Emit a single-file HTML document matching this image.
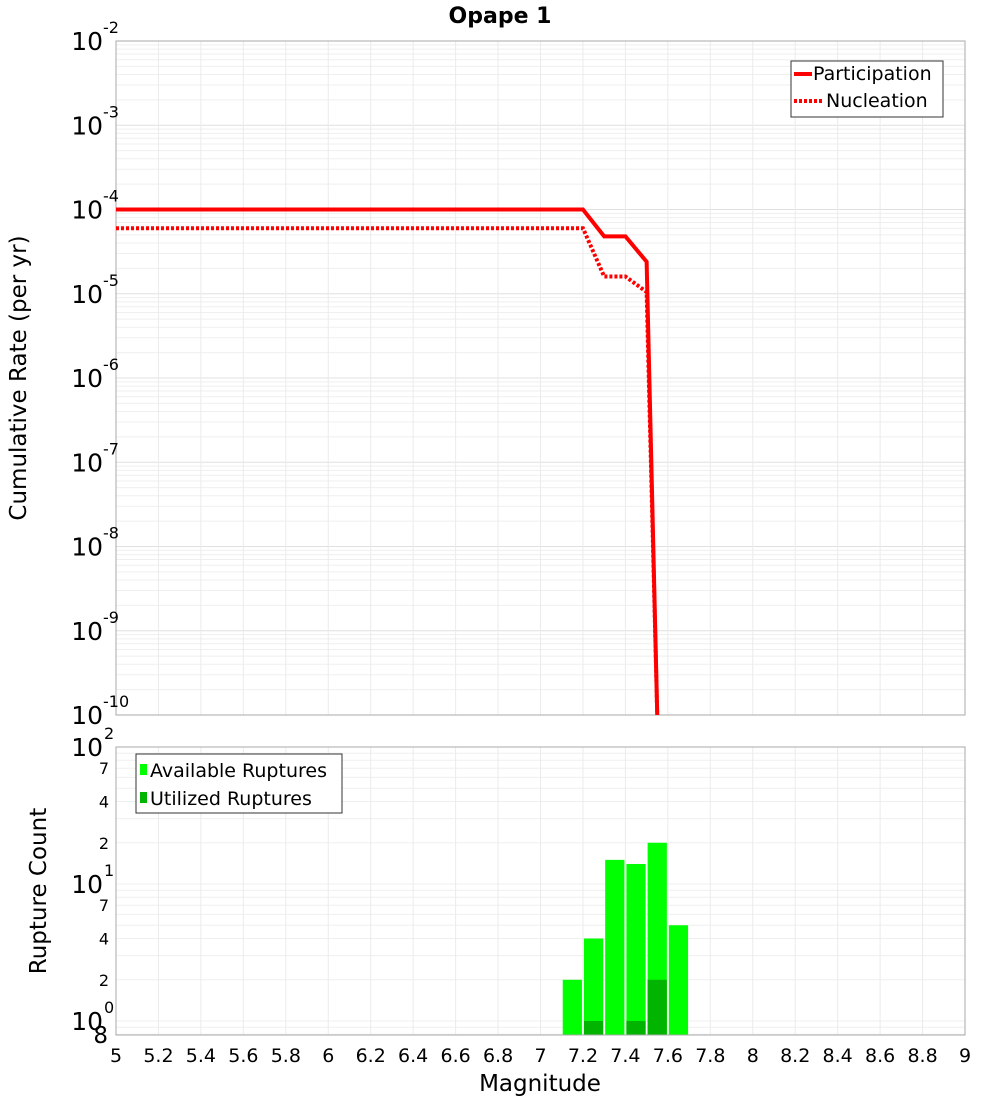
<!DOCTYPE html>
<html><head><meta charset="utf-8"><style>
body{margin:0;background:#fff;}
svg{font-family:"DejaVu Sans","Liberation Sans",sans-serif;}
</style></head><body>
<svg id="c" width="1000" height="1100" xmlns="http://www.w3.org/2000/svg"></svg>
<script>
const partMag=[5,7.2,7.3,7.4,7.5,7.55];
const partRate=[1e-4,1e-4,4.8e-5,4.8e-5,2.4e-5,1e-10];
const nuclMag=[5,7.2,7.3,7.4,7.5,7.55];
const nuclRate=[6e-5,6e-5,1.6e-5,1.6e-5,1.05e-5,1e-10];
const binMag=[7.15,7.25,7.35,7.45,7.55,7.65];
const availCount=[2,4,15,14,20,5];
const utilCount=[0,1,0,1,2,0];
const xTicks=[5,5.2,5.4,5.6,5.8,6,6.2,6.4,6.6,6.8,7,7.2,7.4,7.6,7.8,8,8.2,8.4,8.6,8.8,9];
const topExps=[-2,-3,-4,-5,-6,-7,-8,-9,-10];

const S=document.getElementById('c');const NS='http://www.w3.org/2000/svg';
function el(t,a,p){const e=document.createElementNS(NS,t);for(const k in a)e.setAttribute(k,a[k]);(p||S).appendChild(e);return e;}
const X0=116,X1=965;const x=m=>X0+(m-5)/4*(X1-X0);
const T0=41,T1=715;const yT=v=>T0+(-2-Math.log10(v))*(T1-T0)/8;
const B0=747,B1=1035,BD=137;const yB=v=>B0+(2-Math.log10(v))*BD;

let g=el('g',{});
el('rect',{x:X0,y:T0,width:X1-X0,height:T1-T0,fill:'#fff'},g);
for(let e=-10;e<-2;e++)for(let k=1;k<10;k++){const yy=yT(k*Math.pow(10,e));el('line',{x1:X0,x2:X1,y1:yy,y2:yy,stroke:k==1?'#e0e0e0':'#efefef','stroke-width':1},g);}
xTicks.forEach(t=>{el('line',{x1:x(t),x2:x(t),y1:T0,y2:T1,stroke:'#ebebeb'},g);});
el('rect',{x:X0,y:T0,width:X1-X0,height:T1-T0,fill:'none',stroke:'#aaa'},g);
topExps.forEach(e=>{const t=el('text',{x:103,y:yT(Math.pow(10,e))+9,'font-size':25,'text-anchor':'end'},g);t.textContent='10';
 const s=el('text',{x:103,y:yT(Math.pow(10,e))-8,'font-size':16},g);s.textContent=String(e);
 });
function line(ms,vs,dash,name){const p=el('polyline',{points:ms.map((m,i)=>x(m)+','+yT(vs[i])).join(' '),fill:'none',stroke:'#f00','stroke-width':4,'stroke-dasharray':dash},g);
 }
line(nuclMag,nuclRate,'3,2','nucleation-line');
line(partMag,partRate,'none','participation-line');
let lg=el('g',{},g);
el('rect',{x:791,y:61,width:152,height:56,fill:'#fff',stroke:'#333'},lg);
el('line',{x1:794,x2:812,y1:74,y2:74,stroke:'#f00','stroke-width':4},lg);
el('line',{x1:794,x2:822,y1:101,y2:101,stroke:'#f00','stroke-width':4,'stroke-dasharray':'3,2'},lg);
el('text',{x:813,y:80,'font-size':19},lg).textContent='Participation';
el('text',{x:826,y:107,'font-size':19},lg).textContent='Nucleation';
let tt=el('text',{x:500,y:23,'font-size':22,'font-weight':'bold','text-anchor':'middle'});tt.textContent='Opape 1';

let yt=el('text',{x:0,y:0,'font-size':23,'text-anchor':'middle',transform:'translate(26,378) rotate(-90)'});yt.textContent='Cumulative Rate (per yr)';


let h=el('g',{});
for(let e=-1;e<2;e++)for(let k=1;k<10;k++){const v=k*Math.pow(10,e);if(v<0.79)continue;const yy=yB(v);el('line',{x1:X0,x2:X1,y1:yy,y2:yy,stroke:'#efefef'},h);}
xTicks.forEach(t=>{el('line',{x1:x(t),x2:x(t),y1:B0,y2:B1,stroke:'#ebebeb'},h);});
binMag.forEach((m,i)=>{if(availCount[i]>0){const r=el('rect',{x:x(m-0.05)+1,y:yB(availCount[i]),width:x(5.1)-x(5)-2,height:B1-yB(availCount[i]),fill:'#00ff00'},h);}
 if(utilCount[i]>0){const r=el('rect',{x:x(m-0.05)+1,y:yB(utilCount[i]),width:x(5.1)-x(5)-2,height:B1-yB(utilCount[i]),fill:'#00b400'},h);}});
el('rect',{x:X0,y:B0,width:X1-X0,height:B1-B0,fill:'none',stroke:'#aaa'},h);
[[100,'10','2'],[70,'7'],[40,'4'],[20,'2'],[10,'10','1'],[7,'7'],[4,'4'],[2,'2'],[1,'10','0']].forEach(a=>{const yy=yB(a[0]);
 if(a[2]){el('text',{x:103,y:yy+9,'font-size':25,'text-anchor':'end'},h).textContent=a[1];el('text',{x:104,y:yy-8,'font-size':16},h).textContent=a[2];}
 else el('text',{x:109,y:yy+6,'font-size':16,'text-anchor':'end'},h).textContent=a[1];});
el('text',{x:108,y:1043,'font-size':23,'text-anchor':'end'},h).textContent='8';
xTicks.forEach(t=>{const s=el('text',{x:x(t),y:1062,'font-size':19,'text-anchor':'middle'},h);s.textContent=String(t);});
let bl=el('g',{},h);
el('rect',{x:136,y:754,width:206,height:59,fill:'#fff',stroke:'#333'},bl);
el('rect',{x:140,y:764,width:7,height:11,fill:'#00ff00'},bl);
el('rect',{x:140,y:792,width:7,height:11,fill:'#00b400'},bl);
el('text',{x:150,y:777,'font-size':19},bl).textContent='Available Ruptures';
el('text',{x:150,y:805,'font-size':19},bl).textContent='Utilized Ruptures';
let by=el('text',{x:0,y:0,'font-size':23,'text-anchor':'middle',transform:'translate(46,891) rotate(-90)'});by.textContent='Rupture Count';

let xt=el('text',{x:540,y:1091,'font-size':23,'text-anchor':'middle'});xt.textContent='Magnitude';

</script>
</body></html>
